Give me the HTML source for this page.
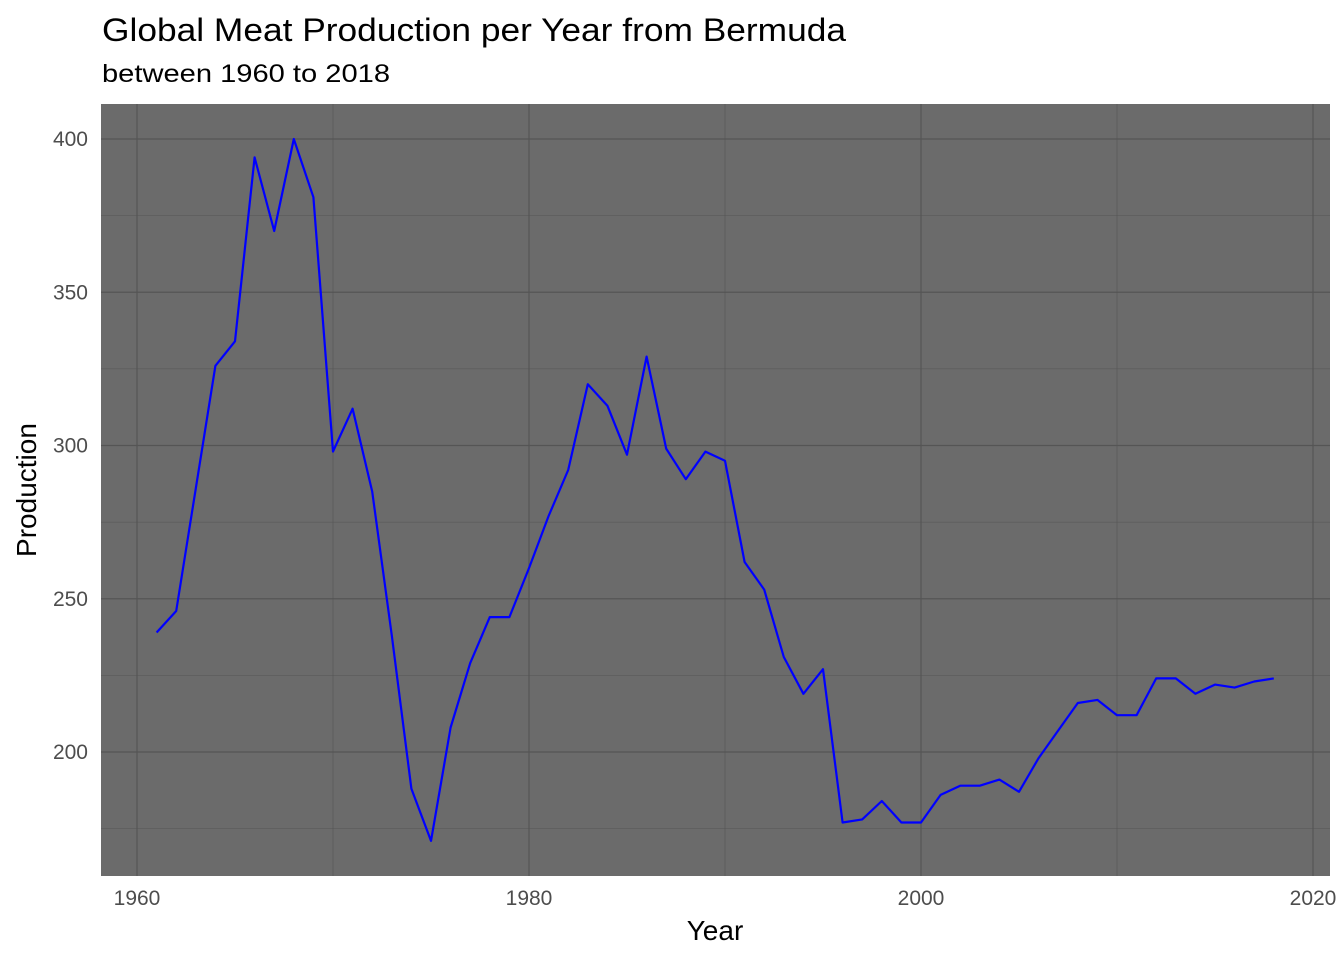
<!DOCTYPE html>
<html><head><meta charset="utf-8"><style>
body{margin:0;background:#fff;font-family:"Liberation Sans",Arial,sans-serif}
svg text{font-family:"Liberation Sans",Arial,sans-serif}
</style></head><body>
<svg id="chart" width="1344" height="960" xmlns="http://www.w3.org/2000/svg">
<text x="102" y="41" font-size="32" textLength="744" lengthAdjust="spacingAndGlyphs" fill="#000">Global Meat Production per Year from Bermuda</text>
<text x="102" y="82" font-size="25" textLength="288" lengthAdjust="spacingAndGlyphs" fill="#000">between 1960 to 2018</text>
<rect x="101" y="104" width="1229" height="772" fill="#6b6b6b"/>
<g id="grid"></g>
<g id="axes"></g>
<path id="line" fill="none" stroke="#0000ff" stroke-width="2.2" stroke-linejoin="round"/>
<text x="715" y="940" font-size="28" text-anchor="middle" fill="#000">Year</text>
<text transform="translate(36,490) rotate(-90)" font-size="28" text-anchor="middle" fill="#000">Production</text>
</svg>
<script>
const years=[];for(let y=1961;y<=2018;y++)years.push(y);
const production=[239,246,286,326,334,394,370,400,381,298,312,285,238,188,171,208,229,244,244,260,277,292,320,313,297,329,299,289,298,295,262,253,231,219,227,177,178,184,177,177,186,189,189,191,187,198,207,216,217,212,212,224,224,219,222,221,223,224];
const xTicks=[1960,1980,2000,2020];
const yTicks=[200,250,300,350,400];
const xMinor=[1970,1990,2010];
const yMinor=[175,225,275,325,375];
const X=v=>137+(v-1960)*19.6;
const Y=v=>752-(v-200)*3.065;
const NS="http://www.w3.org/2000/svg";
const grid=document.getElementById('grid'),axes=document.getElementById('axes');
function ln(x1,y1,x2,y2,w,name){const l=document.createElementNS(NS,'line');
l.setAttribute('x1',x1);l.setAttribute('y1',y1);l.setAttribute('x2',x2);l.setAttribute('y2',y2);
l.setAttribute('stroke','#555');l.setAttribute('stroke-width',w);


grid.appendChild(l);}
yMinor.forEach(v=>ln(101,Y(v),1330,Y(v),0.6,'y-minor-gridline'));
xMinor.forEach(v=>ln(X(v),104,X(v),876,0.6,'x-minor-gridline'));
yTicks.forEach(v=>ln(101,Y(v),1330,Y(v),1.2,'y-major-gridline'));
xTicks.forEach(v=>ln(X(v),104,X(v),876,1.2,'x-major-gridline'));
function tx(x,y,s,anchor,name){const t=document.createElementNS(NS,'text');
t.setAttribute('x',x);t.setAttribute('y',y);t.setAttribute('text-anchor',anchor);
t.setAttribute('font-size','21');t.setAttribute('fill','#4d4d4d');t.textContent=s;


axes.appendChild(t);}
yTicks.forEach(v=>tx(88,Y(v)+7,v,'end','y-tick-label'));
xTicks.forEach(v=>tx(X(v),905,v,'middle','x-tick-label'));
document.getElementById('line').setAttribute('d',years.map((y,i)=>(i?'L':'M')+X(y).toFixed(1)+','+Y(production[i]).toFixed(1)).join(''));
</script>
</body></html>
